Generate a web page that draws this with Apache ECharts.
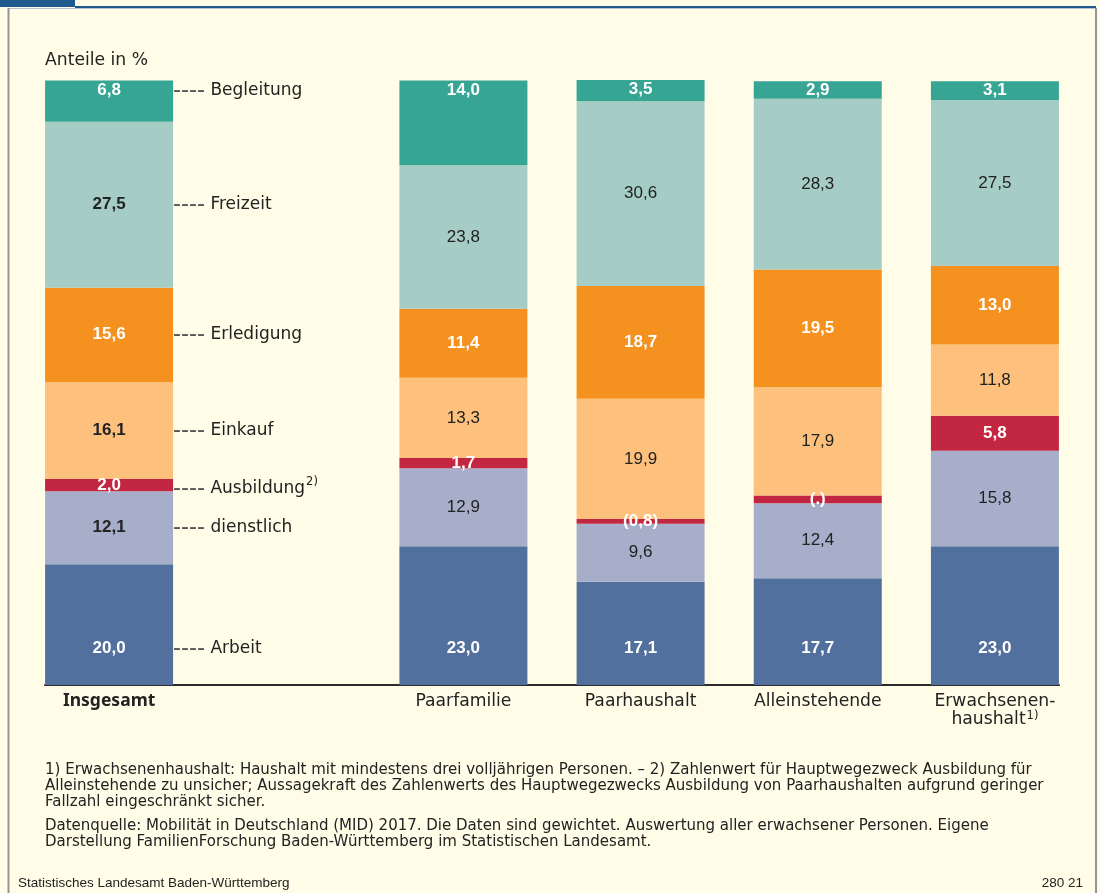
<!DOCTYPE html>
<html><head><meta charset="utf-8">
<script src="https://cdn.jsdelivr.net/npm/echarts@6/dist/echarts.min.js"></script>
<style>html,body{margin:0;padding:0;background:#fffde7;}#c{width:1100px;height:893px;}</style>
</head><body><div id="c"></div>
<script>
// ---- data ----
const categories = ['Insgesamt', '', 'Paarfamilie', 'Paarhaushalt', 'Alleinstehende', 'Erwachsenenhaushalt'];
const purposes = ['Arbeit', 'dienstlich', 'Ausbildung', 'Einkauf', 'Erledigung', 'Freizeit', 'Begleitung'];
const arbeit     = [20.0, '-', 23.0, 17.1, 17.7, 23.0];
const dienstlich = [12.1, '-', 12.9,  9.6, 12.4, 15.8];
const ausbildung = [ 2.0, '-',  1.7,  0.8,  1.3,  5.8];
const einkauf    = [16.1, '-', 13.3, 19.9, 17.9, 11.8];
const erledigung = [15.6, '-', 11.4, 18.7, 19.5, 13.0];
const freizeit   = [27.5, '-', 23.8, 30.6, 28.3, 27.5];
const begleitung = [ 6.8, '-', 14.0,  3.5,  2.9,  3.1];
const ausbildungLabels = ['2,0', '', '1,7', '(0,8)', '(.)', '5,8'];
const sideLabels = ['Arbeit', 'dienstlich', 'Ausbildung{sup|2)}', 'Einkauf', 'Erledigung', 'Freizeit', 'Begleitung'];

// ---- styling ----
const FONT = '"Liberation Sans", Arial, Helvetica, sans-serif';
const WFONT = '"DejaVu Sans", "Liberation Sans", Arial, sans-serif';
const BFONT = '"Noto Sans", "Liberation Sans", Arial, sans-serif';
const TXT = '#222222';
const colors = ['#52709e', '#a6aec9', '#c32641', '#fdc07d', '#f5911e', '#a6cdc5', '#36a593'];
const seriesData = [arbeit, dienstlich, ausbildung, einkauf, erledigung, freizeit, begleitung];
const labelStyle = [
  {position: 'insideBottom', distance: 28, color: '#fff', fontWeight: 'bold'},
  {position: 'inside', color: TXT, fontWeight: 'normal'},
  {position: 'inside', color: '#fff', fontWeight: 'bold'},
  {position: 'inside', color: TXT, fontWeight: 'normal'},
  {position: 'inside', color: '#fff', fontWeight: 'bold'},
  {position: 'inside', color: TXT, fontWeight: 'normal'},
  {position: 'insideTop', distance: 1, color: '#fff', fontWeight: 'bold'}
];
const sideOffsets = [[0, 24], [0, 0], [0, 3], [0, 0], [0, 0], [0, 0], [0, -11]];

function fmt(v) { return v.toFixed(1).replace('.', ','); }

const series = [];
seriesData.forEach((arr, si) => {
  series.push({
    name: purposes[si],
    type: 'bar',
    stack: 'total',
    barWidth: 128,
    barGap: '-100%',
    xAxisIndex: 0, yAxisIndex: 0,
    itemStyle: {color: colors[si]},
    silent: true,
    label: Object.assign({
      show: true, fontSize: 17, fontFamily: FONT,
      formatter: p => si === 2 ? ausbildungLabels[p.dataIndex] : fmt(p.value)
    }, labelStyle[si]),
    data: arr.map((v, i) => i === 0 && v !== '-' ? {value: v, label: {fontWeight: 'bold'}} : v)
  });
});
// overlay (transparent) series carrying the side labels next to "Insgesamt"
seriesData.forEach((arr, si) => {
  series.push({
    name: purposes[si] + '_side',
    type: 'bar',
    stack: 'side',
    barWidth: 128,
    barGap: '-100%',
    xAxisIndex: 0, yAxisIndex: 0,
    itemStyle: {color: 'rgba(0,0,0,0)'},
    silent: true,
    z: 5,
    label: {
      show: true, position: 'right', distance: 0, offset: sideOffsets[si],
      fontFamily: WFONT, fontSize: 17, color: TXT,
      formatter: '{d|----} ' + sideLabels[si],
      rich: {
        d: {fontSize: 24, color: '#555', fontFamily: FONT},
        sup: {fontSize: 11.5, color: TXT, fontFamily: WFONT, verticalAlign: 'top', padding: [0, 0, 6, 1]}
      }
    },
    data: arr.map((v, i) => i === 0 ? v : '-')
  });
});

const chart = echarts.init(document.getElementById('c'), null, {renderer: 'canvas'});
chart.setOption({
  backgroundColor: '#fffde7',
  animation: false,
  grid: [
    {left: 20.5, right: 16.5, top: 80, bottom: 208, containLabel: false},
    {left: 45, right: 41, top: 80, bottom: 208, containLabel: false}
  ],
  xAxis: [
    {
      type: 'category', gridIndex: 0, data: categories,
      axisLine: {show: false}, axisTick: {show: false},
      axisLabel: {
        interval: 0, margin: 7, fontSize: 17.2, fontFamily: WFONT, color: TXT, lineHeight: 18.5,
        formatter: (v, i) => {
          if (i === 0) return '{b|' + v + '}';
          if (v === 'Erwachsenenhaushalt') return 'Erwachsenen-\nhaushalt{sup|1)}';
          return v;
        },
        rich: {
          b: {fontWeight: 'bold', fontSize: 17.5, fontFamily: BFONT, color: TXT},
          sup: {fontSize: 11.5, fontFamily: WFONT, color: TXT, verticalAlign: 'top', padding: [0, 0, 6, 1]}
        }
      }
    },
    {
      type: 'value', gridIndex: 1, min: 0, max: 1,
      axisLine: {show: true, lineStyle: {color: '#2a2a2a', width: 2}},
      axisTick: {show: false}, axisLabel: {show: false}, splitLine: {show: false}
    }
  ],
  yAxis: [
    {type: 'value', gridIndex: 0, min: 0, max: 100.2, show: false},
    {type: 'value', gridIndex: 1, min: 0, max: 1, show: false}
  ],
  series: series,
  graphic: [
    {type: 'rect', shape: {x: 0, y: 0, width: 75, height: 7}, style: {fill: '#1f5a8f'}, silent: true},
    {type: 'line', shape: {x1: 75, y1: 7, x2: 1096, y2: 7}, style: {stroke: '#1f5a8f', lineWidth: 2}, silent: true},
    {type: 'line', shape: {x1: 8, y1: 8.5, x2: 1096, y2: 8.5}, style: {stroke: '#b5c3cc', lineWidth: 1}, silent: true},
    {type: 'line', shape: {x1: 8.5, y1: 8, x2: 8.5, y2: 893}, style: {stroke: '#959595', lineWidth: 2}, silent: true},
    {type: 'line', shape: {x1: 1096, y1: 8, x2: 1096, y2: 893}, style: {stroke: '#959595', lineWidth: 2}, silent: true},
    {type: 'text', x: 45, y: 61, style: {text: 'Anteile in %', fontSize: 17.2, fontFamily: WFONT, fill: TXT, textVerticalAlign: 'middle'}, silent: true},
    {type: 'text', x: 45, y: 762.5, style: {
      text: '1) Erwachsenenhaushalt: Haushalt mit mindestens drei volljährigen Personen. – 2) Zahlenwert für Hauptwegezweck Ausbildung für\nAlleinstehende zu unsicher; Aussagekraft des Zahlenwerts des Hauptwegezwecks Ausbildung von Paarhaushalten aufgrund geringer\nFallzahl eingeschränkt sicher.',
      fontSize: 15, lineHeight: 15.8, fontFamily: WFONT, fill: TXT, textVerticalAlign: 'top'}, silent: true},
    {type: 'text', x: 45, y: 818.5, style: {
      text: 'Datenquelle: Mobilität in Deutschland (MID) 2017. Die Daten sind gewichtet. Auswertung aller erwachsener Personen. Eigene\nDarstellung FamilienForschung Baden-Württemberg im Statistischen Landesamt.',
      fontSize: 15, lineHeight: 15.8, fontFamily: WFONT, fill: TXT, textVerticalAlign: 'top'}, silent: true},
    {type: 'text', x: 18, y: 883, style: {text: 'Statistisches Landesamt Baden-Württemberg', fontSize: 13.5, fontFamily: FONT, fill: TXT, textVerticalAlign: 'middle'}, silent: true},
    {type: 'text', x: 1083, y: 883, style: {text: '280 21', fontSize: 13.5, fontFamily: FONT, fill: TXT, textAlign: 'right', textVerticalAlign: 'middle'}, silent: true}
  ]
});
</script>
</body></html>
